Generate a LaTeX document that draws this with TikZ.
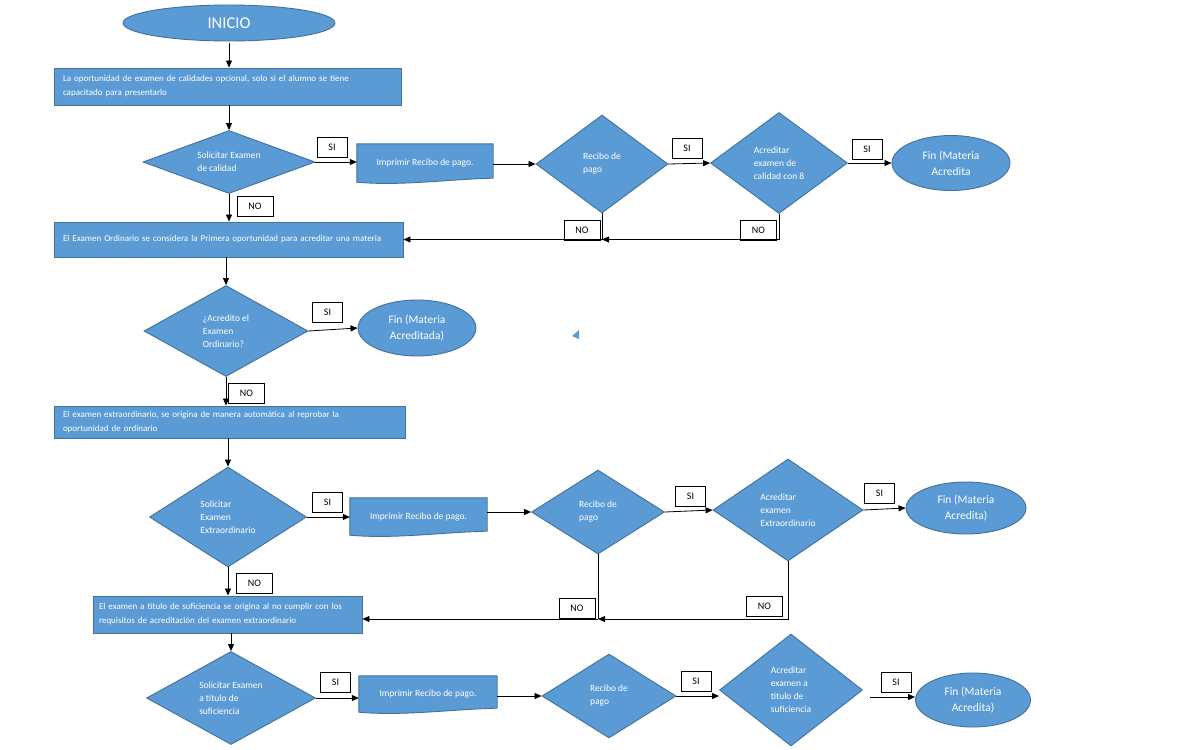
\documentclass[tikz,border=0pt]{standalone}
\usepackage{fontspec}
\setmainfont{Carlito}
\usetikzlibrary{shapes.geometric,arrows.meta,backgrounds}
\definecolor{fillblue}{HTML}{5B9BD5}
\definecolor{edgeblue}{HTML}{41719C}
\newcommand\mydocshape[1]{%
  \filldraw[fill=fillblue,draw=edgeblue,line width=0.9pt] (#1.north west) -- (#1.north east) -- ([yshift=5pt]#1.south east)
  .. controls ([xshift=-45pt,yshift=4pt]#1.south east) and ([xshift=45pt,yshift=-3pt]#1.south west) .. ([yshift=1pt]#1.south west) -- cycle;}
\begin{document}
\begin{tikzpicture}[x=1pt,y=-1pt,
  every node/.style={inner sep=0pt},
  shapebase/.style={fill=fillblue,draw=edgeblue,line width=0.9pt,text=white},
  procbox/.style={shapebase,rectangle,align=left,font=\fontsize{9}{14}\selectfont},
  dec/.style={shapebase,diamond,align=left,font=\fontsize{9.5}{13}\selectfont},
  term/.style={shapebase,ellipse,align=center,font=\fontsize{11.5}{16}\selectfont},
  docnode/.style={rectangle,text=white,font=\fontsize{9.5}{11}\selectfont},
  tag/.style={draw=black,fill=white,line width=0.7pt,minimum height=20pt,font=\fontsize{10}{11}\selectfont},
  sitag/.style={tag,minimum width=30pt},
  notag/.style={tag,minimum width=36pt},
  arr/.style={draw=black,line width=0.8pt,-{Triangle[length=7pt,width=6pt]}},
  ln/.style={draw=black,line width=0.8pt},
]
\useasboundingbox (0,0) rectangle (1200,750);

% ---- shapes ----
\node[term,minimum width=212pt,minimum height=36pt,font=\fontsize{16.5}{18}\selectfont] (inicio) at (229,23) {INICIO};
\node[procbox,minimum width=347pt,minimum height=37pt,text width=329pt] (r1) at (227.5,86.5)
  {La oportunidad de examen de calidades opcional, solo si el alumno se tiene\\capacitado para presentarlo};
\node[dec,aspect=2.73,minimum width=172pt,minimum height=63pt] (d1) at (229,162) {Solicitar Examen\\de calidad};
\node[docnode,minimum width=136pt,minimum height=39pt] (i1) at (425,163.5) {Imprimir Recibo de pago.};
\node[dec,aspect=1.35,minimum width=132pt,minimum height=98pt] (rc1) at (602,164) {Recibo de\\pago};
\node[dec,aspect=1.36,minimum width=137pt,minimum height=101pt] (a1) at (779,163) {Acreditar\\examen de\\calidad con 8};
\node[term,minimum width=118pt,minimum height=55pt] (f1) at (951,163) {Fin (Materia\\Acredita};

\node[procbox,minimum width=349pt,minimum height=35pt,text width=331pt] (r2) at (228.5,239.5)
  {El Examen Ordinario se considera la Primera oportunidad para acreditar una materia};
\node[dec,aspect=1.8,minimum width=164pt,minimum height=91pt] (d2) at (226,331) {¿Acredito el\\Examen\\Ordinario?};
\node[term,minimum width=118pt,minimum height=56pt] (f2) at (417,328) {Fin (Materia\\Acreditada)};

\node[procbox,minimum width=351pt,minimum height=32pt,text width=333pt] (r3) at (229.5,422)
  {El examen extraordinario, se origina de manera automática al reprobar la\\oportunidad de ordinario};
\node[dec,aspect=1.57,minimum width=157pt,minimum height=100pt] (d3) at (228,517) {Solicitar\\Examen\\Extraordinario};
\node[docnode,minimum width=137pt,minimum height=38pt] (i2) at (418.5,517) {Imprimir Recibo de pago.};
\node[dec,aspect=1.58,minimum width=133pt,minimum height=84pt] (rc2) at (598,512) {Recibo de\\pago};
\node[dec,aspect=1.47,minimum width=150pt,minimum height=102pt] (a2) at (788,510) {Acreditar\\examen\\Extraordinario};
\node[term,minimum width=120pt,minimum height=52pt] (f3) at (966,508) {Fin (Materia\\Acredita)};

\node[procbox,minimum width=269pt,minimum height=37pt,text width=257pt] (r4) at (227.5,614.5)
  {El examen a título de suficiencia se origina al no cumplir con los\\requisitos de acreditación del examen extraordinario};
\node[dec,aspect=1.82,minimum width=169pt,minimum height=93pt] (d4) at (231,698) {Solicitar Examen\\a título de\\suficiencia};
\node[docnode,minimum width=138pt,minimum height=37pt] (i3) at (428,694.5) {Imprimir Recibo de pago.};
\node[dec,aspect=1.6,minimum width=134pt,minimum height=84pt] (rc3) at (609,696) {Recibo de\\pago};
\node[dec,aspect=1.28,minimum width=143pt,minimum height=112pt] (a3) at (791,690) {Acreditar\\examen a\\título de\\suficiencia};
\node[term,minimum width=115pt,minimum height=54pt] (f4) at (973,700) {Fin (Materia\\Acredita)};

\begin{scope}[on background layer]
  \fill[white] (0,0) rectangle (1200,750);
  \mydocshape{i1}
  \mydocshape{i2}
  \mydocshape{i3}
\end{scope}

% stray mark
\fill[fillblue] (572,336) -- (579,330) -- (579,339) -- cycle;

% ---- tags ----
\node[sitag] (s1) at (332,147.5) {SI};
\node[sitag] (s2) at (687,148.5) {SI};
\node[sitag] (s3) at (867,149) {SI};
\node[sitag] (s4) at (327.5,312.5) {SI};
\node[sitag] (s5) at (327.5,502.5) {SI};
\node[sitag] (s6) at (690.5,496) {SI};
\node[sitag] (s7) at (879.5,493) {SI};
\node[sitag] (s8) at (335.5,682) {SI};
\node[sitag] (s9) at (696,681.5) {SI};
\node[sitag] (s10) at (896,682) {SI};
\node[notag] (n1) at (255,206) {NO};
\node[notag] (n2) at (582,230) {NO};
\node[notag] (n3) at (758.5,230) {NO};
\node[notag] (n4) at (246.5,393) {NO};
\node[notag] (n5) at (254.5,583) {NO};
\node[notag] (n6) at (577,608) {NO};
\node[notag] (n7) at (764.5,606) {NO};

% ---- connectors ----
\draw[arr] ([yshift=-2pt]inicio.south) -- (inicio.south |- r1.north);
\draw[arr] (d1.north |- r1.south) -- (d1.north);
\draw[arr] (d1.east) -- (i1.west |- d1.east);
\draw[arr] (i1.east |- rc1.west) -- (rc1.west);
\draw[arr] (rc1.east) -- (a1.west);
\draw[arr] (a1.east) -- (f1.west);
\draw[arr] (d1.south) -- (d1.south |- r2.north);
\coordinate (m1) at (rc1.south |- r2.east);
\draw[ln] (rc1.south) -- (m1);
\draw[arr] (a1.south) -- (a1.south |- m1) -- (m1);
\draw[arr] (m1) -- (r2.east);

\draw[arr] (d2.north |- r2.south) -- (d2.north);
\draw[arr] (d2.east) -- (f2.west);
\draw[arr] (d2.south) -- (d2.south |- r3.north);

\draw[arr] (d3.north |- r3.south) -- (d3.north);
\draw[arr] (d3.east) -- (i2.west |- d3.east);
\draw[arr] (i2.east |- rc2.west) -- (rc2.west);
\draw[arr] (rc2.east) -- (a2.west);
\draw[arr] (a2.east) -- (f3.west);
\draw[arr] (d3.south) -- (d3.south |- r4.north);
\coordinate (y2) at (0,619);
\coordinate (m2) at (rc2.south |- y2);
\draw[ln] (rc2.south) -- (m2);
\draw[arr] (a2.south) -- (a2.south |- m2) -- (m2);
\draw[arr] (m2) -- (r4.east |- m2);

\draw[arr] (d4.north |- r4.south) -- (d4.north);
\draw[arr] (d4.east) -- (i3.west |- d4.east);
\draw[arr] (i3.east |- rc3.west) -- (rc3.west);
\draw[arr] (rc3.east) -- (a3.west |- rc3.east);
\coordinate (c3) at (870,697);
\draw[arr] (c3) -- (c3 -| f4.west);
\end{tikzpicture}
\end{document}
